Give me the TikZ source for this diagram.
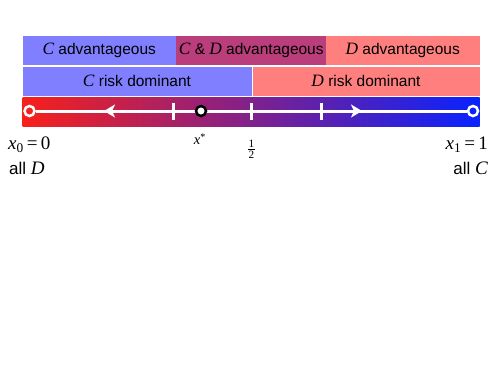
\documentclass[tikz,border=0pt]{standalone}
\usepackage{amsmath}
\usepackage{fontspec}
\setmainfont{Liberation Sans}
\newfontfamily\tms[Scale=1.12]{Liberation Serif}
\usepackage{tikz}
\usetikzlibrary{arrows.meta}

\newcommand\vr[1]{{\tms\itshape #1}}

\definecolor{cblue}{HTML}{7F7FFF}
\definecolor{dred}{HTML}{FF7F7F}
\definecolor{cdmix}{HTML}{BA3D7C}
\definecolor{barred}{HTML}{F8201A}
\definecolor{barmid}{HTML}{8E1F94}
\definecolor{barblue}{HTML}{0822FF}

\tikzset{
    band/.style={inner sep=0pt, minimum height=29pt, font=\fontsize{15.5}{18}\selectfont},
    flow/.style={white, line width=3pt},
    tickmark/.style={white, line width=3pt},
    endpt/.style={circle, draw=white, line width=2.5pt, inner sep=0pt, minimum size=10pt},
    endlabel/.style={inner sep=0pt, font=\fontsize{17}{20}\selectfont}
}

\begin{document}
\begin{tikzpicture}[x=1pt, y=-1pt]
                \useasboundingbox (0,0) rectangle (498,381);

                % Nodes
                \node[band, fill=cblue, minimum width=153.5pt] (cadv) at (99.25,50) {\vr{C} advantageous};
                \node[band, fill=cdmix, minimum width=150.5pt] (cdadv) at (251.25,50) {\vr{C} \& \vr{D} advantageous};
                \node[band, fill=dred, minimum width=153.5pt] (dadv) at (402.75,50) {\vr{D} advantageous};
                \node[band, fill=cblue, minimum width=229pt] (crisk) at (137,81) {\vr{C} risk dominant};
                \node[band, fill=dred, minimum width=227pt] (drisk) at (366,81) {\vr{D} risk dominant};
                \shade[left color=barred, middle color=barmid, right color=barblue] (22.5,97.5) rectangle (479.5,126.5);

                \coordinate (tipL) at (104,111);
                \coordinate (tipR) at (362,111);
                \node[endpt, fill=barred] (x0) at (29.5,111) {};
                \node[endpt, fill=barblue] (x1) at (473,111) {};

                % Edges
                \draw[flow] (x0)--(x1);
                \foreach \t in {173,251,321}
                    \draw[tickmark] (\t,103)--(\t,120);
                \draw[flow, -{Stealth[length=11pt, width=13pt, inset=3pt]}] (201,111)--(tipL);
                \draw[flow, -{Stealth[length=11pt, width=13pt, inset=3pt]}] (321,111)--(tipR);
                \node[circle, draw=black, fill=white, line width=2.5pt, inner sep=0pt, minimum size=10pt] (xs) at (201,111) {};

                % Labels
                \node[font=\fontsize{13}{15}\selectfont] (xslabel) at (200,139) {\vr{x}\textsuperscript{\tms *}};
                \node[font=\fontsize{10}{11}\selectfont\tms, align=center, inner sep=0pt] (half) at (251.5,149)
                    {1\\[-8.5pt]\rule{6.5pt}{0.5pt}\\[-2.5pt]2};
                \node[endlabel, anchor=west] (x0label) at (8,145) {\vr{x}\textsubscript{\tms 0}{\tms\,=\,0}};
                \node[endlabel, anchor=west] (alld) at (9,168) {all \vr{D}};
                \node[endlabel, anchor=east] (x1label) at (488,145) {\vr{x}\textsubscript{\tms 1}{\tms\,=\,1}};
                \node[endlabel, anchor=east] (allc) at (488,168) {all \vr{C}};
            \end{tikzpicture}
\end{document}
